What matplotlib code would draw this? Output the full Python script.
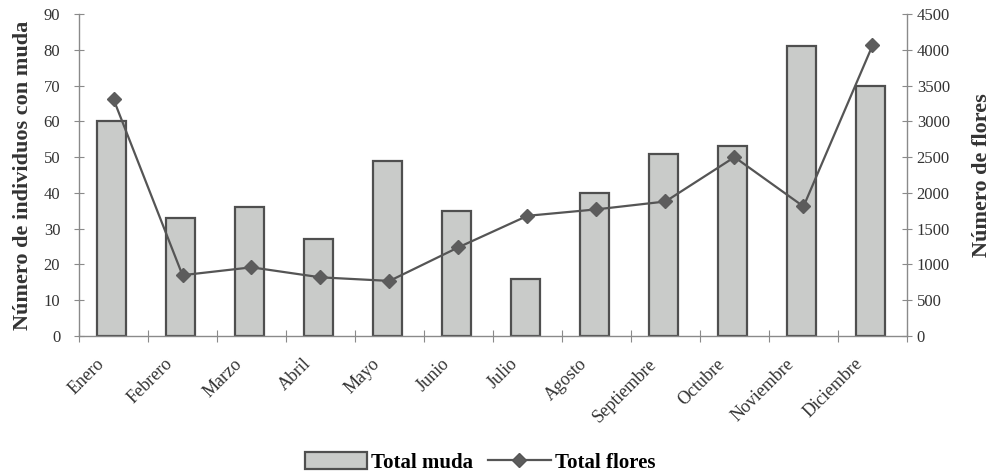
import matplotlib
matplotlib.use('Agg')
import matplotlib.pyplot as plt
import matplotlib.transforms as mtransforms
import numpy as np
from matplotlib.patches import Patch
from matplotlib.lines import Line2D

plt.rcParams['font.family'] = ['Liberation Serif', 'DejaVu Serif']

meses = ['Enero', 'Febrero', 'Marzo', 'Abril', 'Mayo', 'Junio', 'Julio',
         'Agosto', 'Septiembre', 'Octubre', 'Noviembre', 'Diciembre']
total_muda = [60, 33, 36, 27, 49, 35, 16, 40, 51, 53, 81, 70]
total_flores = [3310, 850, 960, 820, 770, 1240, 1680, 1770, 1880, 2500, 1810, 4060]

gris = '#8a8a8a'
fig = plt.figure(figsize=(10, 4.75), dpi=100)
ax = fig.add_axes([0.079, 0.2926, 0.828, 0.6779])
ax2 = ax.twinx()

x = np.arange(len(meses))
ax.bar(x - 0.03, total_muda, width=0.42, color='#c9cbc9', edgecolor='#4f4f4f',
       linewidth=1.6, zorder=2)
ax2.plot(x, total_flores, color='#555555', linewidth=1.6, marker='D',
         markersize=7, markerfacecolor='#5c5c5c', markeredgecolor='#5c5c5c')

ax.set_xlim(-0.5, len(meses) - 0.5)
ax.set_ylim(0, 90)
ax.set_yticks(range(0, 91, 10))
ax2.set_ylim(0, 4500)
ax2.set_yticks(range(0, 4501, 500))

# category ticks sit between months, labels under each month
ax.set_xticks(np.arange(len(meses) + 1) - 0.5)
ax.set_xticklabels([])
ax.set_xticks(x, minor=True)
ax.set_xticklabels(meses, minor=True, rotation=45, ha='right',
                   rotation_mode='anchor', fontsize=13, color='#333333')
ax.tick_params(axis='x', which='minor', length=0, pad=14)
ax.tick_params(axis='x', which='major', direction='inout', length=8,
               color=gris)
shift = mtransforms.ScaledTranslation(-18 / 100, 0, fig.dpi_scale_trans)
for lbl in ax.get_xticklabels(minor=True):
    lbl.set_transform(lbl.get_transform() + shift)

for a in (ax, ax2):
    a.spines['top'].set_visible(False)
    for s in ('left', 'right', 'bottom'):
        a.spines[s].set_color(gris)
        a.spines[s].set_linewidth(1.0)
    a.tick_params(axis='y', direction='inout', length=7, color=gris,
                  labelsize=12, labelcolor='#333333')
ax.tick_params(axis='y', pad=10)
ax.spines['right'].set_visible(False)
ax2.spines['left'].set_visible(False)
ax2.spines['bottom'].set_visible(False)

ax.set_ylabel('Número de individuos con muda', fontsize=16, fontweight='bold',
              color='#333333', labelpad=8)
ax2.set_ylabel('Número de flores', fontsize=16, fontweight='bold',
               color='#333333', labelpad=16)

handles = [Patch(facecolor='#c9cbc9', edgecolor='#4f4f4f', linewidth=1.6),
           Line2D([], [], color='#555555', linewidth=1.6, marker='D',
                  markersize=7, markerfacecolor='#5c5c5c')]
fig.legend(handles, ['Total muda', 'Total flores'], loc='center',
           bbox_to_anchor=(0.48, 0.027), ncol=2, frameon=False,
           prop={'size': 15, 'weight': 'bold'}, handlelength=3.0,
           handleheight=0.9, columnspacing=0.7, handletextpad=0.2)

fig.savefig('out.png', dpi=100)
